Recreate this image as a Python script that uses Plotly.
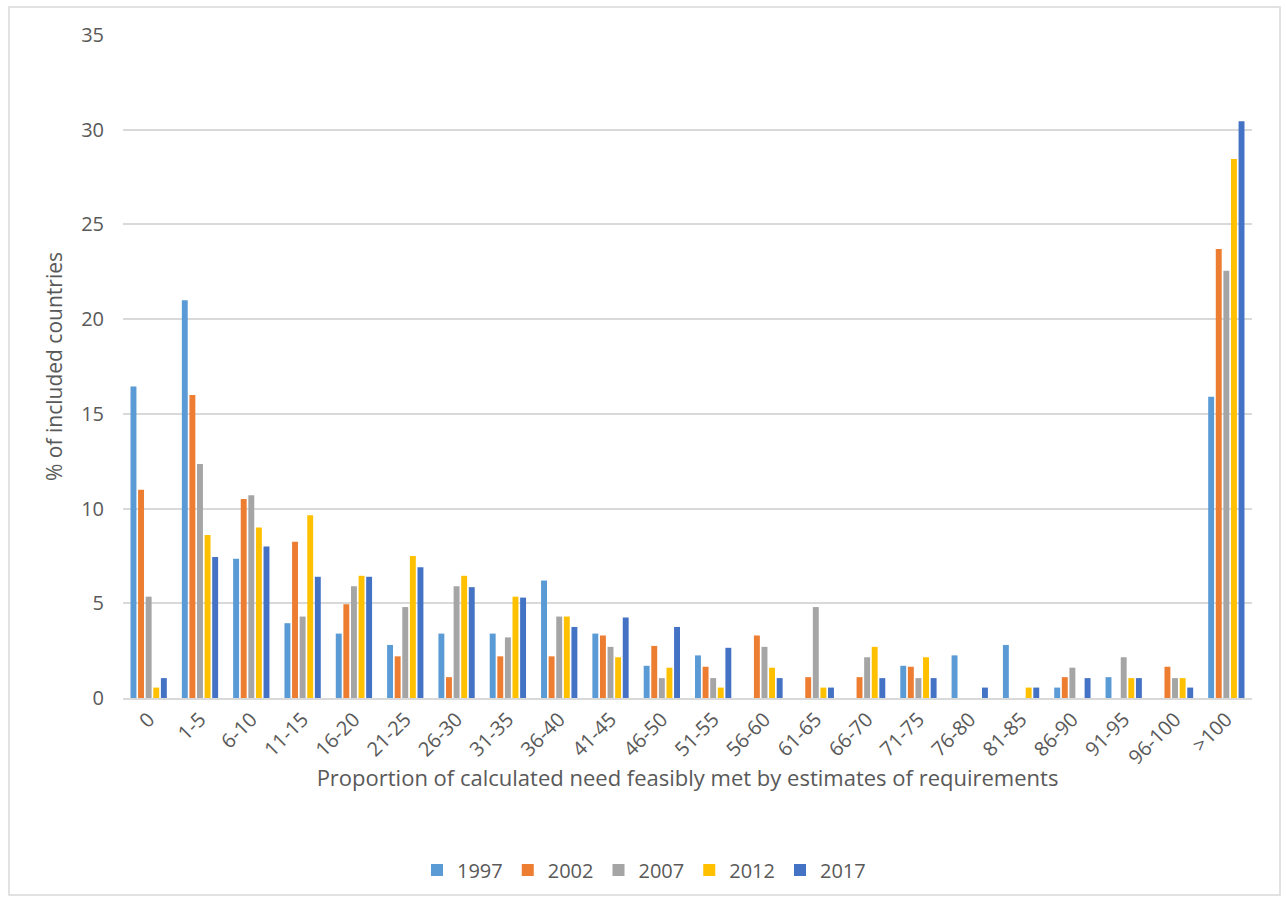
import plotly.graph_objects as go

categories = ["0", "1-5", "6-10", "11-15", "16-20", "21-25", "26-30", "31-35", "36-40",
              "41-45", "46-50", "51-55", "56-60", "61-65", "66-70", "71-75", "76-80",
              "81-85", "86-90", "91-95", "96-100", ">100"]
y1997 = [16.45, 21.0, 7.35, 3.95, 3.4, 2.8, 3.4, 3.4, 6.2, 3.4, 1.7, 2.25, 0, 0, 0, 1.7, 2.25, 2.8, 0.55, 1.1, 0, 15.9]
y2002 = [11.0, 16.0, 10.5, 8.25, 4.95, 2.2, 1.1, 2.2, 2.2, 3.3, 2.75, 1.65, 3.3, 1.1, 1.1, 1.65, 0, 0, 1.1, 0, 1.65, 23.7]
y2007 = [5.35, 12.35, 10.7, 4.3, 5.9, 4.8, 5.9, 3.2, 4.3, 2.7, 1.05, 1.05, 2.7, 4.8, 2.15, 1.05, 0, 0, 1.6, 2.15, 1.05, 22.55]
y2012 = [0.55, 8.6, 9.0, 9.65, 6.45, 7.5, 6.45, 5.35, 4.3, 2.15, 1.6, 0.55, 1.6, 0.55, 2.7, 2.15, 0, 0.55, 0, 1.05, 1.05, 28.45]
y2017 = [1.05, 7.45, 8.0, 6.4, 6.4, 6.9, 5.85, 5.3, 3.75, 4.25, 3.75, 2.65, 1.05, 0.55, 1.05, 1.05, 0.55, 0.55, 1.05, 1.05, 0.55, 30.45]

series = [("1997", y1997, "#5B9BD5"), ("2002", y2002, "#ED7D31"), ("2007", y2007, "#A5A5A5"),
          ("2012", y2012, "#FFC000"), ("2017", y2017, "#4472C4")]

fig = go.Figure()
for name, vals, col in series:
    fig.add_trace(go.Bar(x=categories, y=vals, name=name, marker_color=col,
                         marker_line_width=0))

L, R, T, B = 123, 34, 35, 203
W, H = 1286, 901
pw, ph = W - L - R, H - T - B

font_c = "#595959"
fig.update_layout(
    width=W, height=H,
    margin=dict(l=L, r=R, t=T, b=B, autoexpand=False),
    paper_bgcolor="white", plot_bgcolor="white",
    barmode="group", bargap=0.26, bargroupgap=0.22,
    font=dict(family="Open Sans, Liberation Sans, sans-serif", color=font_c, size=20),
    showlegend=True,
    legend=dict(orientation="h", x=(644 - L) / pw, xanchor="center", y=-(870 - 698) / ph, yanchor="middle",
                font=dict(size=20, color=font_c), itemwidth=30, traceorder="normal"),
    xaxis=dict(type="category", tickangle=-45, showgrid=False, showline=True,
               linecolor="#D9D9D9", linewidth=1.5, ticks="",
               tickfont=dict(size=20, color=font_c), automargin=False,
               title=dict(text="Proportion of calculated need feasibly met by estimates of requirements",
                          font=dict(size=22, color=font_c), standoff=0)),
    yaxis=dict(range=[0, 35], dtick=5, showgrid=True, gridcolor="#D9D9D9", gridwidth=1.5,
               zeroline=False, showline=False, ticks="", ticklabelstandoff=18,
               tickfont=dict(size=20, color=font_c), automargin=False,
               title=dict(text="% of included countries", font=dict(size=21, color=font_c), standoff=12)),
    shapes=[dict(type="rect", xref="paper", yref="paper",
                 x0=(9 - L) / pw, x1=(1280 - L) / pw,
                 y0=(H - B - 895) / ph, y1=(H - B - 7) / ph,
                 line=dict(color="#D9D9D9", width=1.5), fillcolor="rgba(0,0,0,0)", layer="below")],
)

fig.write_html("out.html")
